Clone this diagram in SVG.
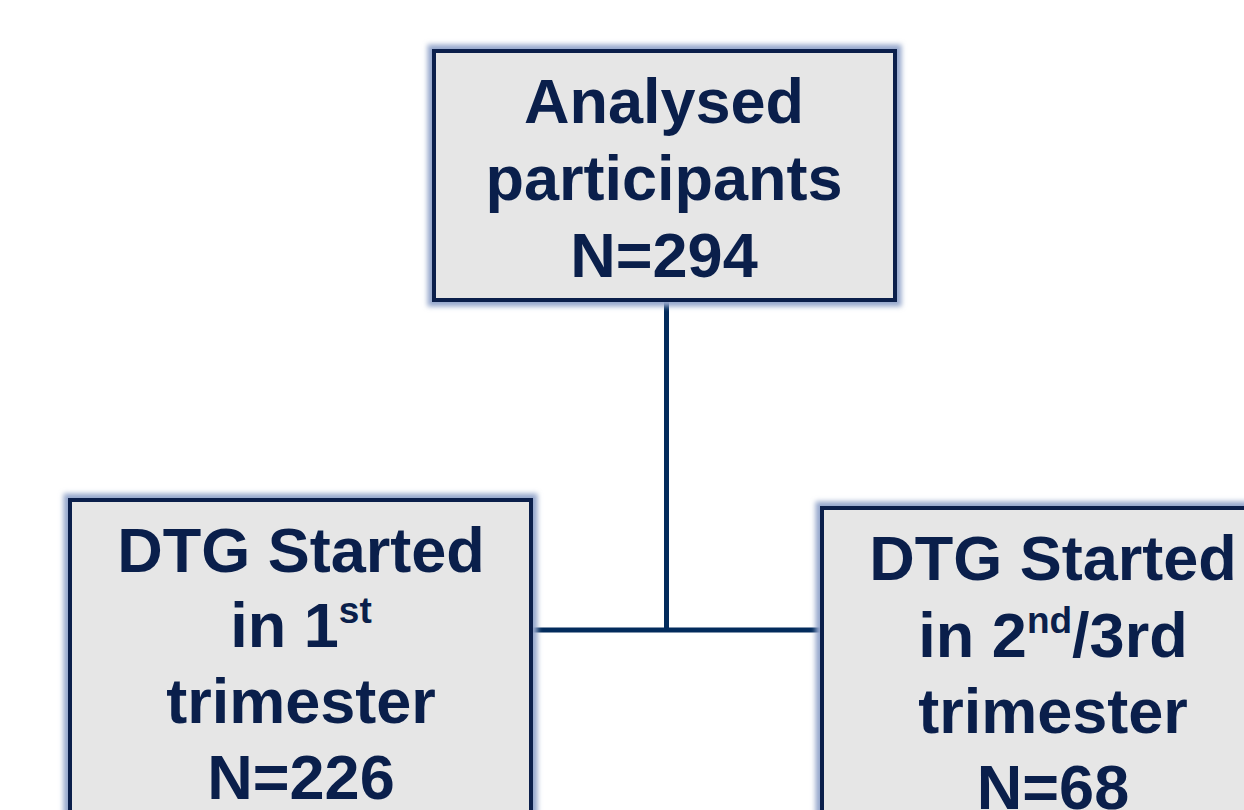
<svg xmlns="http://www.w3.org/2000/svg" width="1244" height="810" viewBox="0 0 1244 810">
<defs>
<filter id="glow" x="-10%" y="-10%" width="120%" height="120%">
<feGaussianBlur stdDeviation="2.5"/>
</filter>
</defs>
<style>
.halo{fill:none;stroke:#95a7cc;stroke-width:13;filter:url(#glow)}
.box{fill:#e6e6e6;stroke:#0b1f4b;stroke-width:4}
.t{font-family:"Liberation Sans",Arial,sans-serif;font-weight:bold;font-size:63px;fill:#0a1f4b;text-anchor:middle}
.sup{font-size:37px}
.conn{stroke:#022b5c;stroke-width:5;fill:none}
</style>
<rect width="1244" height="810" fill="#ffffff"/>
<g id="connectors">
<line class="conn" x1="666.5" y1="300" x2="666.5" y2="630"/>
<line class="conn" x1="531" y1="630" x2="822" y2="630"/>
</g>
<g id="node-analysed">
<rect class="halo" x="434" y="51" width="461" height="249"/>
<rect class="box" x="434" y="51" width="461" height="249"/>
<text class="t" x="664" y="123">Analysed</text>
<text class="t" x="664" y="200">participants</text>
<text class="t" x="664" y="277">N=294</text>
</g>
<g id="node-first">
<rect class="halo" x="70" y="500" width="461" height="400"/>
<rect class="box" x="70" y="500" width="461" height="400"/>
<text class="t" x="301" y="572">DTG Started</text>
<text class="t" x="301" y="647">in 1<tspan class="sup" dy="-24">st</tspan></text>
<text class="t" x="301" y="723">trimester</text>
<text class="t" x="301" y="799">N=226</text>
</g>
<g id="node-second">
<rect class="halo" x="822" y="508" width="461" height="400"/>
<rect class="box" x="822" y="508" width="461" height="400"/>
<text class="t" x="1053" y="580">DTG Started</text>
<text class="t" x="1053" y="657">in 2<tspan class="sup" dy="-24">nd</tspan><tspan dy="24">/3rd</tspan></text>
<text class="t" x="1053" y="733">trimester</text>
<text class="t" x="1053" y="809">N=68</text>
</g>
</svg>
